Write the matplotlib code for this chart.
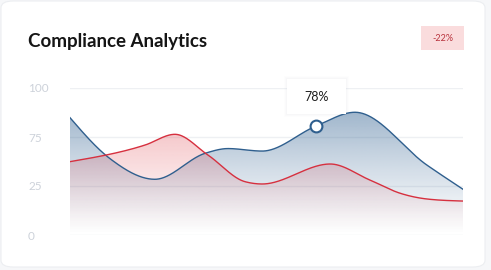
import numpy as np
import matplotlib
matplotlib.use("Agg")
import matplotlib.pyplot as plt
from matplotlib.patches import FancyBboxPatch, Rectangle, Polygon

# --- data (x as % of chart width, y on 0..100 plot scale) ---
blue_x = [0, 10.2, 21.6, 34.4, 40.2, 48.9, 62.6, 72.5, 90.8, 100]
blue_y = [79.8, 51.9, 37.9, 55.6, 58.8, 57.1, 74.1, 83.5, 47.6, 31.1]
red_x = [0, 19.1, 26.7, 35.1, 44.5, 48.9, 66.2, 76.3, 84.0, 90.8, 100]
red_y = [49.9, 61.2, 68.5, 54.4, 36.3, 34.7, 48.3, 37.4, 28.4, 24.5, 23.1]

tick_pos = [0, 100 / 3, 200 / 3, 100]
tick_labels = ["0", "25", "75", "100"]

title = "Compliance Analytics"
badge = "-22%"
tooltip = "78%"
tooltip_idx = 6  # point of the blue series under the tooltip

W, H = 491, 270


def monotone(x, y, xs):
    # monotone cubic like d3.curveMonotoneX
    x = np.asarray(x, float)
    y = np.asarray(y, float)
    h = np.diff(x)
    s = np.diff(y) / h
    n = len(x)
    m = np.zeros(n)
    for k in range(1, n - 1):
        p = (s[k - 1] * h[k] + s[k] * h[k - 1]) / (h[k - 1] + h[k])
        m[k] = (np.sign(s[k - 1]) + np.sign(s[k])) * min(abs(s[k - 1]), abs(s[k]), 0.5 * abs(p))
    m[0] = (3 * s[0] - m[1]) / 2
    m[-1] = (3 * s[-1] - m[-2]) / 2
    idx = np.clip(np.searchsorted(x, xs) - 1, 0, n - 2)
    t = (xs - x[idx]) / h[idx]
    h00 = 2 * t**3 - 3 * t**2 + 1
    h10 = t**3 - 2 * t**2 + t
    h01 = -2 * t**3 + 3 * t**2
    h11 = t**3 - t**2
    return h00 * y[idx] + h10 * h[idx] * m[idx] + h01 * y[idx + 1] + h11 * h[idx] * m[idx + 1]


def fx(px):
    return px / W


def fy(py):
    return 1 - py / H


fig = plt.figure(figsize=(W / 100, H / 100), dpi=100)
fig.patch.set_facecolor("#f6f7f9")

card = FancyBboxPatch((fx(1), fy(267)), fx(485) - fx(1), fy(1) - fy(267),
                      boxstyle="round,pad=0,rounding_size=0.025",
                      transform=fig.transFigure, facecolor="white",
                      edgecolor="#eceef1", linewidth=0.8, zorder=-10)
fig.patches.append(card)

ax = fig.add_axes([fx(70), fy(235), fx(463) - fx(70), fy(88) - fy(235)])
ax.set_facecolor("none")
for s in ax.spines.values():
    s.set_visible(False)
ax.set_xticks([])
ax.set_yticks(tick_pos)
ax.set_yticklabels(tick_labels)
ax.tick_params(axis="y", length=0, pad=30.2, labelsize=8.5, labelcolor="#cdd2da")
for lab in ax.get_yticklabels():
    lab.set_ha("left")
    lab.set_family("Lato")
for t in tick_pos:
    ax.axhline(t, color="#eef0f3", lw=1, zorder=0)

xs = np.linspace(0, 100, 800)
by = monotone(blue_x, blue_y, xs)
ry = monotone(red_x, red_y, xs)


def grad_fill(yvals, rgb, amax):
    grad = np.linspace(0, 1, 256).reshape(-1, 1)
    img = np.zeros((256, 1, 4))
    img[..., 0] = rgb[0]
    img[..., 1] = rgb[1]
    img[..., 2] = rgb[2]
    img[..., 3] = amax * grad[:, 0:1] ** 1.2
    im = ax.imshow(img, extent=[0, 100, 0, 85], origin="lower", aspect="auto",
                   zorder=1, interpolation="bilinear")
    verts = np.vstack([np.column_stack([xs, yvals]), [[100, 0], [0, 0]]])
    poly = Polygon(verts, closed=True, facecolor="none", edgecolor="none")
    ax.add_patch(poly)
    im.set_clip_path(poly)


grad_fill(by, (40 / 255, 90 / 255, 140 / 255), 0.45)
grad_fill(ry, (220 / 255, 50 / 255, 60 / 255), 0.34)
ax.set_xlim(0, 100)
ax.set_ylim(0, 100)

ax.plot(xs, by, color="#2f5f8e", lw=1.0, zorder=3)
ax.plot(xs, ry, color="#d6303f", lw=1.0, zorder=3)
ax.plot([blue_x[tooltip_idx]], [blue_y[tooltip_idx]], "o", ms=8.5, mfc="white",
        mec="#2f5f8e", mew=1.5, zorder=5, clip_on=False)

# tooltip box with soft shadow
for i, a in enumerate([0.012, 0.018, 0.025]):
    g = 3 - i
    fig.patches.append(Rectangle((fx(287 - g), fy(114 + g)), fx(59 + 2 * g), (35 + 2 * g) / H,
                                 transform=fig.transFigure, facecolor="#8090a0",
                                 alpha=a, edgecolor="none", zorder=6))
fig.patches.append(Rectangle((fx(287), fy(114)), fx(59), 35 / H,
                             transform=fig.transFigure, facecolor="white",
                             edgecolor="none", zorder=7))
fig.text(fx(316.5), fy(97), tooltip, ha="center", va="center", fontsize=9,
         family="Lato", color="#1e1e1e", zorder=8)

fig.text(fx(28), fy(41.5), title, ha="left", va="center", fontsize=13.5,
         family="Lato", weight="bold", color="#151515")

fig.patches.append(Rectangle((fx(421), fy(50)), fx(43), 24 / H,
                             transform=fig.transFigure, facecolor="#fadcdd",
                             edgecolor="none"))
fig.text(fx(442.5), fy(38.5), badge, ha="center", va="center", fontsize=6.5,
         family="Lato", color="#b8323c")

fig.savefig("out.png", dpi=100, facecolor=fig.get_facecolor())
